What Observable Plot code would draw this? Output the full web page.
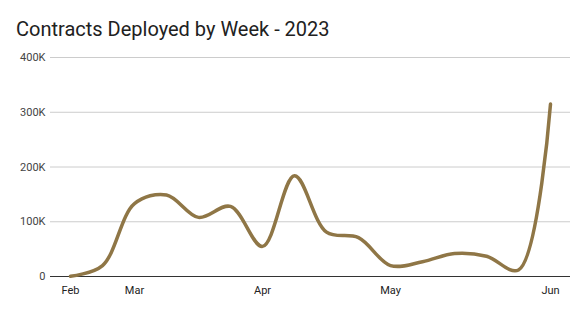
<!DOCTYPE html>
<html><head><meta charset="utf-8">
<script src="https://cdn.jsdelivr.net/npm/d3@7"></script>
<script src="https://cdn.jsdelivr.net/npm/@observablehq/plot@0.6"></script>
<style>
body{margin:0;background:#fff;font-family:Roboto,sans-serif;}
#title{font-size:20px;color:#212121;padding:17px 0 0 16px;height:28px;box-sizing:content-box;line-height:24px;}
#chart svg{display:block;}
</style></head><body>
<div id="title">Contracts Deployed by Week - 2023</div>
<div id="chart"></div>
<script>
const weeks = ["2023-02-20","2023-02-27","2023-03-06","2023-03-13","2023-03-20","2023-03-27","2023-04-03","2023-04-10","2023-04-17","2023-04-24","2023-05-01","2023-05-08","2023-05-15","2023-05-22","2023-05-29","2023-06-05"];
const contracts = [500, 20000, 133000, 149000, 108000, 128000, 55000, 184000, 81000, 71000, 20000, 27000, 42000, 37000, 12000, 315000];
const yTicks = [0, 100000, 200000, 300000, 400000];

const data = weeks.map((w, i) => ({week: w, value: contracts[i]}));
const monthOf = w => d3.utcFormat("%b")(new Date(w));
const xTicks = weeks.filter((w, i) => i === 0 || monthOf(w) !== monthOf(weeks[i - 1]));

const chart = Plot.plot({
  width: 585,
  height: 267,
  marginTop: 12,
  marginBottom: 36,
  marginLeft: 50,
  marginRight: 15,
  style: {fontFamily: "Roboto, sans-serif", fontSize: "11px", background: "#fff"},
  x: {type: "point", domain: weeks, range: [67, 553], padding: 0, label: null},
  y: {domain: [0, 400000], label: null},
  marks: [
    Plot.gridY(yTicks, {stroke: "#cccccc", strokeOpacity: 1}),
    Plot.axisY(yTicks, {tickSize: 0, tickPadding: 5, tickFormat: d => d === 0 ? "0" : d / 1000 + "K", fill: "#444", label: null}),
    Plot.axisX(xTicks, {tickSize: 0, tickPadding: 10, tickFormat: monthOf, fill: "#222", label: null}),
    Plot.ruleY([0], {stroke: "#333"}),
    Plot.line(data, {x: "week", y: "value", stroke: "#8f7646", strokeWidth: 3.5, curve: "catmull-rom"})
  ]
});
document.getElementById("chart").append(chart);
</script>
</body></html>
